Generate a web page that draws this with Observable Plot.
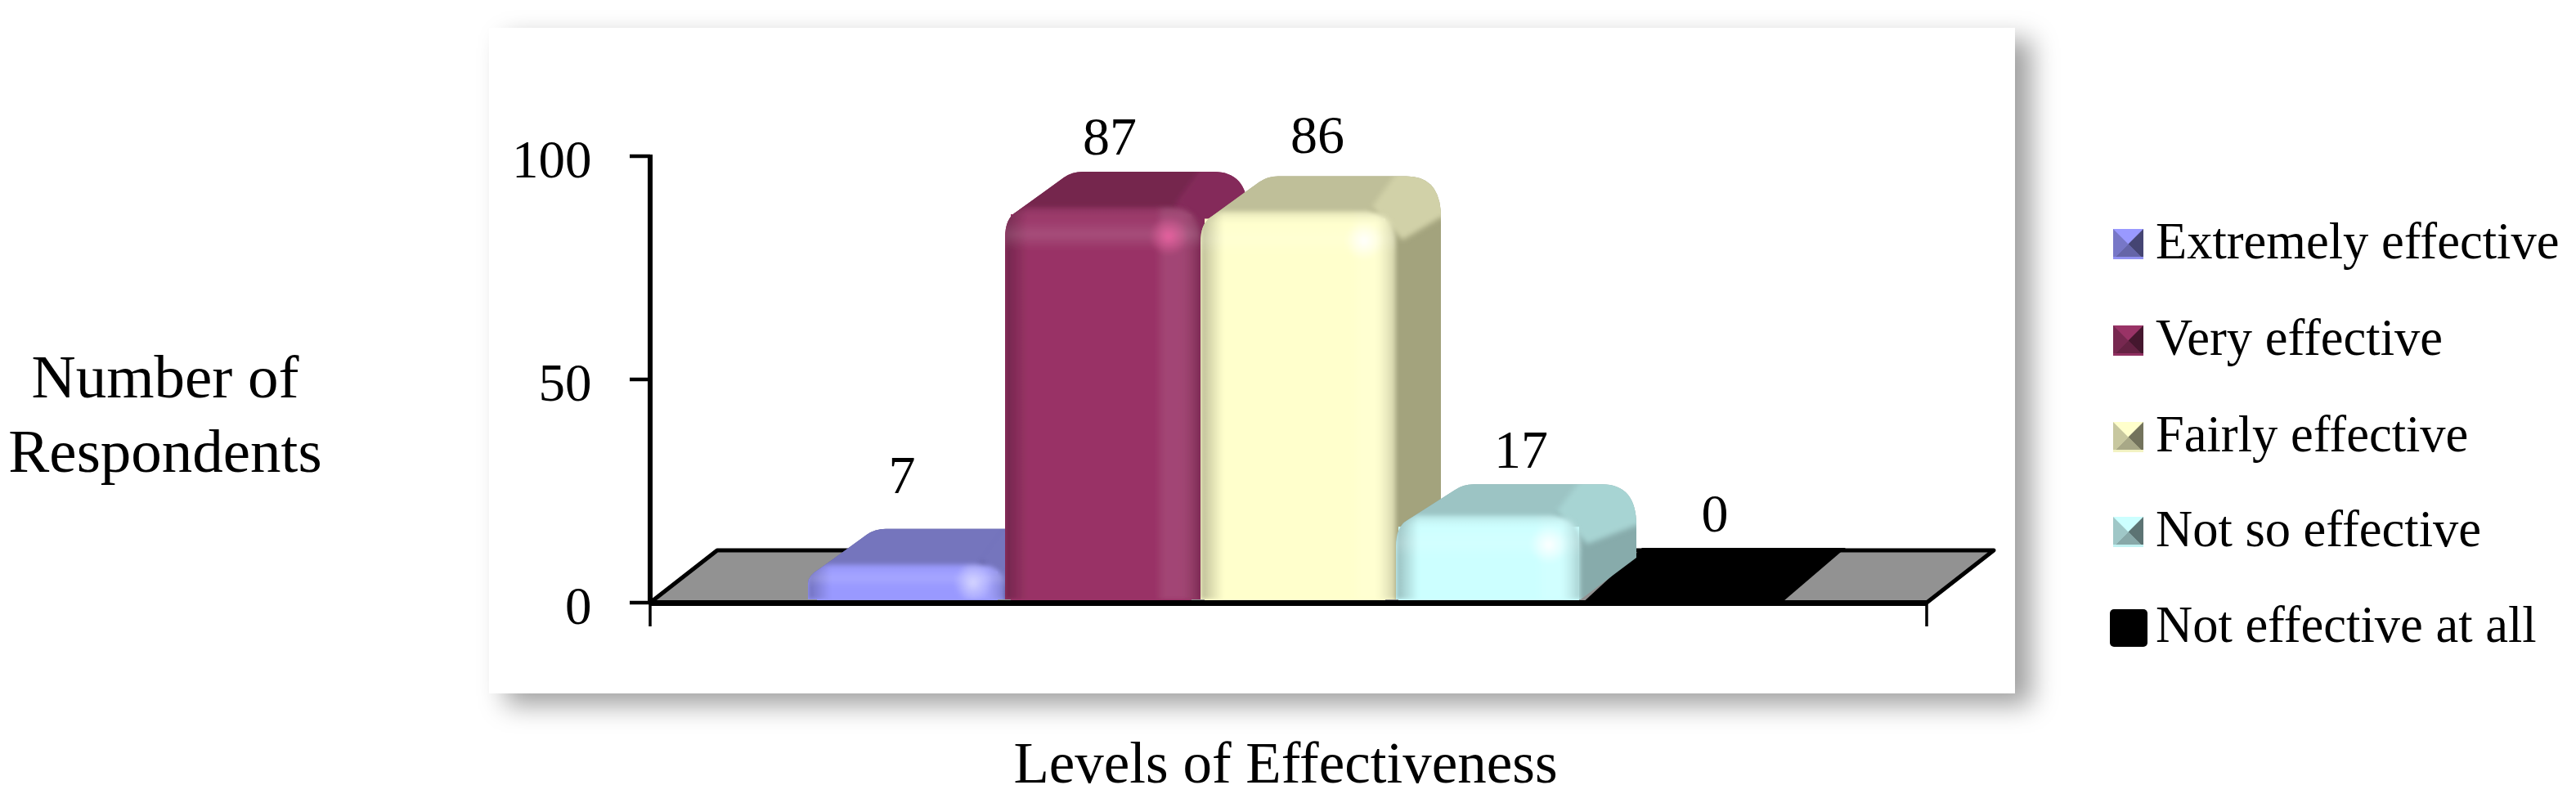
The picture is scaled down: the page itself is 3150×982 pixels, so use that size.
<!DOCTYPE html>
<html>
<head>
<meta charset="utf-8">
<script src="https://cdn.jsdelivr.net/npm/d3@7"></script>
<script src="https://cdn.jsdelivr.net/npm/@observablehq/plot@0.6"></script>
<style>
  html, body { margin: 0; padding: 0; background: #fff; }
  #page { position: relative; width: 3150px; height: 982px; overflow: hidden; font-family: "Liberation Serif", serif; color: #000; }
  #card { position: absolute; left: 598px; top: 34px; width: 1866px; height: 814px; background: #fff; box-shadow: 20px 14px 30px #a0a0a0; }
  #chart { position: absolute; left: 0; top: 0; }
  #chart svg { display: block; }
  .t { position: absolute; white-space: nowrap; line-height: 1; }
  .swatch { position: absolute; display: block; }
</style>
</head>
<body>
<div id="page">
  <div id="card"></div>
  <div id="chart"></div>
</div>
<script>
// ---- data ----
const categories = ["Extremely effective", "Very effective", "Fairly effective", "Not so effective", "Not effective at all"];
const counts = [7, 87, 86, 17, 0];
const yTicks = [0, 50, 100];
const yTitleLines = ["Number of", "Respondents"];
const xTitle = "Levels of Effectiveness";

// ---- colours ----
const frontColors = ["#9999ff", "#993366", "#ffffcc", "#ccffff", "#000000"];
const topColors = ["#7575bd", "#74264e", "#bfbf99", "#9cc4c4", "#000000"];
const cornerColors = ["#7575bd", "#84295a", "#d1d1a8", "#a7d4d3", "#000000"];
const sideColors = ["#5c5c99", "#84295a", "#a3a37d", "#87abab", "#000000"];
const spotColors = ["#d6d6ff", "#e8609f", "#ffffff", "#ffffff", "#000000"];
const floorColor = "#929292";

// ---- layout constants ----
const DY = 52;
const depthX = [62, 58, 55, 68, 0];
const frontLift = [9, 9, 9, 14, 0];
const edgeNudge = [-3, 1, 3, 5, -6, -2];
const labelShiftX = [-7, 10, 27, 39, 39];
const labelShiftY = [-117, -95, -102, -94, -109];
const legendBaselines = [316, 434, 552, 668, 785];

const table = categories.map((category, i) => ({category, count: counts[i], i}));
const FONT = "Liberation Serif";

function geometry(i, {x, y}) {
  const step = x(categories[1]) - x(categories[0]);
  const xl = x(categories[i]) + edgeNudge[i], xr = x(categories[i]) + step + edgeNudge[i + 1], v = counts[i];
  return {xl, xr, y0: y(0), yv: y(v), yf: y(v) - frontLift[i], yb: y(v) - DY, v, DX: depthX[i]};
}

function silhouette({xl, xr, y0, yf, yb, DX}) {
  const R = Math.min(50, y0 - 55 - yb);
  const start = Math.min(38, (y0 - 4 - yf) * 0.55);
  return `M${xl},${y0 - 4}L${xl},${yf + start}Q${xl},${yf + 14} ${xl + 14},${yf + 6}` +
    `L${xl + 72},${yb + 7}Q${xl + 82},${yb} ${xl + 95},${yb}` +
    `L${xr + DX - 42},${yb}Q${xr + DX},${yb} ${xr + DX},${yb + R}` +
    `L${xr + DX},${y0 - 55}L${xr},${y0 - 4}Z`;
}

// Everything behind the front face of a bar: its top and right-hand side.
function depthMark(i) {
  return (index, scales) => {
    const geo = geometry(i, scales);
    const {xl, xr, y0, yf, yb, v, DX} = geo;
    const g = d3.create("svg:g");
    if (v === 0) {
      g.append("path")
        .attr("d", `M${xl - 2},${y0 + 4}L${xl + 75},${y0 - 67}L${xr + 83},${y0 - 67}L${xr},${y0 + 4}Z`)
        .attr("fill", frontColors[i]);
      return g.node();
    }
    const R = Math.min(50, y0 - 55 - yb);
    g.append("clipPath").attr("id", `sil${i}`).append("path").attr("d", silhouette(geo));
    const inner = g.append("g").attr("clip-path", `url(#sil${i})`);
    inner.append("rect").attr("x", xl - 10).attr("y", yb - 10).attr("width", xr + DX - xl + 20).attr("height", y0 - yb + 10).attr("fill", sideColors[i]);
    const soft = inner.append("g").attr("filter", "url(#soft)");
    soft.append("path")
      .attr("d", `M${xr - 30},${yf - 5}L${xr + 12},${yb - 20}L${xr + DX + 20},${yb - 20}L${xr + DX + 20},${yb + R}L${xr + DX},${yb + R}L${xr + 8},${yf + 35}Z`)
      .attr("fill", cornerColors[i]);
    soft.append("path")
      .attr("d", `M${xl - 20},${yb - 20}L${xr + 12},${yb - 20}L${xr - 30},${yf - 5}L${xr - 30},${yf + 24}L${xl - 20},${yf + 24}Z`)
      .attr("fill", topColors[i]);
    return g.node();
  };
}

// Bevelled front face, drawn over the plain bar, softened inside the bar's outline.
function bevelMark(i) {
  return (index, scales) => {
    const geo = geometry(i, scales);
    const {xl, xr, y0, yf, v} = geo;
    if (v === 0) return null;
    const bottom = y0 - 4, r = 38, h = bottom - yf;
    const b = Math.min(52, h * 0.62);
    const d = `M${xl - 12},${bottom + 12}L${xl - 12},${yf}L${xr - r},${yf}Q${xr},${yf} ${xr},${yf + Math.min(r, h * 0.6)}L${xr},${bottom + 12}Z`;
    const g = d3.create("svg:g");
    const rg = g.append("radialGradient").attr("id", `spot${i}`);
    rg.append("stop").attr("offset", 0).attr("stop-color", spotColors[i]).attr("stop-opacity", 1);
    rg.append("stop").attr("offset", 0.35).attr("stop-color", spotColors[i]).attr("stop-opacity", 0.6);
    rg.append("stop").attr("offset", 1).attr("stop-color", spotColors[i]).attr("stop-opacity", 0);
    g.append("clipPath").attr("id", `outline${i}`).append("path").attr("d", silhouette(geo));
    const c = g.append("g").attr("clip-path", `url(#outline${i})`);
    const s = c.append("g").attr("filter", "url(#softer)");
    s.append("path").attr("d", d).attr("fill", frontColors[i]);
    s.append("clipPath").attr("id", `face${i}`).append("path").attr("d", d);
    const f = s.append("g").attr("clip-path", `url(#face${i})`);
    f.append("rect").attr("x", xl).attr("y", yf).attr("width", 28).attr("height", h).attr("fill", "url(#edgeLeft)");
    f.append("rect").attr("x", xr - 55).attr("y", yf).attr("width", 55).attr("height", h).attr("fill", "url(#edgeRight)");
    f.append("rect").attr("x", xl).attr("y", yf).attr("width", xr - xl).attr("height", b).attr("fill", "url(#edgeTop)");
    f.append("circle").attr("cx", xr - 39).attr("cy", yf + Math.min(36, b * 0.85)).attr("r", 24).attr("fill", `url(#spot${i})`);
    return g.node();
  };
}

const defsMark = () => {
  const defs = d3.create("svg:defs");
  const blur = (id, sd) => defs.append("filter").attr("id", id).attr("x", "-10%").attr("y", "-10%").attr("width", "120%").attr("height", "120%")
    .append("feGaussianBlur").attr("stdDeviation", sd);
  blur("soft", 3);
  blur("softer", 2.5);
  const grad = (id, x2, y2, stops) => {
    const g = defs.append("linearGradient").attr("id", id).attr("x1", 0).attr("y1", 0).attr("x2", x2).attr("y2", y2);
    stops.forEach(([o, c, a]) => g.append("stop").attr("offset", o).attr("stop-color", c).attr("stop-opacity", a));
  };
  grad("edgeLeft", 1, 0, [[0, "#000", 0.26], [1, "#000", 0]]);
  grad("edgeRight", 1, 0, [[0, "#fff", 0], [0.2, "#fff", 0.09], [0.55, "#fff", 0.09], [1, "#000", 0.2]]);
  grad("edgeTop", 0, 1, [[0, "#000", 0.12], [0.3, "#fff", 0.03], [0.65, "#fff", 0.13], [1, "#fff", 0]]);
  return defs.node();
};

const floorMark = (index, {y}, values, {width, marginLeft, marginRight}) => {
  const left = marginLeft, right = width - marginRight, y0 = y(0);
  const g = d3.create("svg:g");
  g.append("path")
    .attr("d", `M${left},${y0}L${left + 82},${y0 - 64}L${right + 82},${y0 - 64}L${right},${y0}Z`)
    .attr("fill", floorColor).attr("stroke", "#000").attr("stroke-width", 5).attr("stroke-linejoin", "round");
  return g.node();
};

// Axis lines and tick strokes, taken from the scales.
const axisLinesMark = (index, {y}, values, {width, marginLeft, marginRight}) => {
  const g = d3.create("svg:g").attr("stroke", "#000");
  g.append("line").attr("x1", marginLeft).attr("x2", marginLeft).attr("y1", y(100) - 2).attr("y2", y(0) + 2).attr("stroke-width", 6);
  yTicks.forEach((t) => {
    g.append("line").attr("x1", marginLeft - 25).attr("x2", marginLeft).attr("y1", y(t)).attr("y2", y(t)).attr("stroke-width", 4.5);
  });
  [marginLeft, width - marginRight].forEach((px) => {
    g.append("line").attr("x1", px).attr("x2", px).attr("y1", y(0)).attr("y2", y(0) + 29).attr("stroke-width", 3.5);
  });
  return g.node();
};

const order = table.filter((d) => d.count === 0).concat(table.filter((d) => d.count !== 0));

const chart = Plot.plot({
  width: 3150,
  height: 982,
  marginLeft: 795,
  marginRight: 794,
  marginTop: 191,
  marginBottom: 245,
  style: {background: "transparent", fontFamily: FONT, color: "#000"},
  x: {type: "band", domain: categories, range: [990, 2177], padding: 0, axis: null},
  y: {domain: [0, 100], range: [737, 191], label: null},
  marks: [
    defsMark,
    floorMark,
    ...order.flatMap((d) => [
      depthMark(d.i),
      Plot.barY([d], {x: "category", y: "count", fill: frontColors[d.i], insetLeft: 8, insetRight: 8}),
      bevelMark(d.i)
    ]),
    Plot.ruleY([0], {stroke: "#000", strokeWidth: 7}),
    axisLinesMark,
    Plot.axisY({ticks: yTicks, tickSize: 0, tickPadding: 72, dy: 5, fontSize: 65, label: null}),
    ...table.map((d) => Plot.text([d], {
      x: "category", y: "count", text: (t) => String(t.count),
      fontSize: 66, fill: "#000",
      dx: labelShiftX[d.i], dy: labelShiftY[d.i]
    }))
  ]
});
document.getElementById("chart").appendChild(chart);

// ---- titles and legend: plain text around the chart ----
const page = document.getElementById("page");
function addText(str, size, baseline, pos) {
  const el = document.createElement("div");
  el.className = "t";
  el.textContent = str;
  el.style.fontSize = size + "px";
  el.style.top = (baseline - size * 0.8375) + "px";
  if (pos.center !== undefined) {
    el.style.left = pos.center + "px";
    el.style.transform = "translateX(-50%)";
  } else {
    el.style.left = pos.left + "px";
  }
  page.appendChild(el);
}
addText(yTitleLines[0], 75, 486, {center: 202});
addText(yTitleLines[1], 75, 577, {center: 202});
addText(xTitle, 71, 957, {center: 1572});

const shade = (c, k) => { const h = d3.rgb(c); return d3.rgb(h.r * k, h.g * k, h.b * k).formatHex(); };
categories.forEach((name, i) => {
  const base = legendBaselines[i];
  addText(name, 62.5, base, {left: 2636});
  const svg = d3.create("svg").attr("class", "swatch");
  if (frontColors[i] === "#000000") {
    svg.attr("width", 46).attr("height", 46).style("left", "2580px").style("top", (base - 40) + "px");
    svg.append("rect").attr("width", 46).attr("height", 46).attr("rx", 5).attr("fill", "#000");
  } else {
    const s = 37, m = s / 2, c = frontColors[i];
    svg.attr("width", s).attr("height", s).style("left", "2584px").style("top", (base - 36) + "px");
    svg.append("rect").attr("width", s).attr("height", s).attr("fill", c);
    svg.append("path").attr("d", `M0,0L${m},${m}L0,${s}Z`).attr("fill", shade(c, 0.78));
    svg.append("path").attr("d", `M0,${s}L${m},${m}L${s},${s}Z`).attr("fill", shade(c, 0.66));
    svg.append("path").attr("d", `M${s},0L${m},${m}L${s},${s}Z`).attr("fill", shade(c, 0.45));
    svg.append("rect").attr("y", s - 3).attr("width", s).attr("height", 3).attr("fill", shade(c, 0.95));
  }
  page.appendChild(svg.node());
});
</script>
</body>
</html>
